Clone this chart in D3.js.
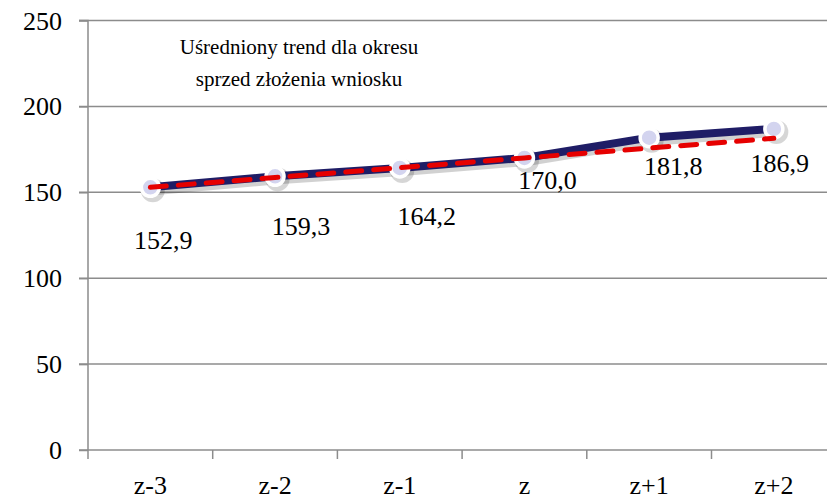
<!DOCTYPE html>
<html>
<head>
<meta charset="utf-8">
<script src="https://cdn.jsdelivr.net/npm/d3@7"></script>
</head>
<body style="margin:0;background:#fff">
<svg id="chart" width="827" height="499" style="display:block"></svg>
<script>
// Period labels and values
const categories = ["z-3", "z-2", "z-1", "z", "z+1", "z+2"];
const actualValues = [152.9, 159.3, 164.2, 170.0, 181.8, 186.9];
// Averaged trend from the pre-application period, carried forward
const trendValues = [152.9, 158.6, 164.3, 170.0, 175.7, 181.4];
const yTicks = [0, 50, 100, 150, 200, 250];
const titleLines = ["Uśredniony trend dla okresu", "sprzed złożenia wniosku"];

// Per-label nudges (px) relative to each point
const labelNudge = [[13, 53], [26, 50], [27, 48], [23, 22], [24, 28], [6, 34]];

const FONT = "Liberation Serif";
const svg = d3.select("#chart");
const W = 827;
const plotLeft = 88, plotTop = 20.5, plotBottom = 450;
const band = 124.7;
const plotRight = plotLeft + band * categories.length;

const x = d3.scaleBand().domain(categories).range([plotLeft, plotRight]).paddingInner(0).paddingOuter(0);
const y = d3.scaleLinear().domain([0, 250]).range([plotBottom, plotTop]);
const cx = d => x(d) + x.bandwidth() / 2;

// Text helper: each label sits directly on the svg root
function label(px, py, str, size, anchor) {
  return svg.append("text")
    .attr("x", px).attr("y", py)
    .attr("font-family", FONT).attr("font-size", size)
    .attr("text-anchor", anchor).attr("fill", "#000")
    .text(str);
}

const gridColor = "#8c8c8c";

// Horizontal gridlines with left tick stubs
svg.append("g").selectAll("line").data(yTicks.filter(d => d > 0)).join("line")
  .attr("x1", plotLeft - 9).attr("x2", W)
  .attr("y1", d => y(d)).attr("y2", d => y(d))
  .attr("stroke", gridColor).attr("stroke-width", 1.5);

// Y axis line and ticks
const yAxis = d3.axisLeft(y).tickValues(yTicks).tickSize(9).tickFormat("");
const gy = svg.append("g").attr("transform", `translate(${plotLeft},0)`).call(yAxis);
gy.select(".domain").attr("stroke", gridColor).attr("stroke-width", 1.5)
  .attr("d", `M-9,${y(250)}H0V${plotBottom}`);
gy.selectAll(".tick line").attr("stroke", gridColor).attr("stroke-width", 1.5);
gy.selectAll(".tick text").remove();
yTicks.forEach(v => label(plotLeft - 26, y(v) + 9, d3.format("d")(v), 26, "end"));

// X axis with ticks at band boundaries
const xBoundaries = d3.range(categories.length + 1).map(i => plotLeft + i * band);
svg.append("line").attr("x1", plotLeft - 9).attr("x2", W).attr("y1", plotBottom).attr("y2", plotBottom)
  .attr("stroke", gridColor).attr("stroke-width", 1.5);
svg.append("g").selectAll("line").data(xBoundaries).join("line")
  .attr("x1", d => d).attr("x2", d => d).attr("y1", plotBottom).attr("y2", plotBottom + 9)
  .attr("stroke", gridColor).attr("stroke-width", 1.5);
categories.forEach(c => label(cx(c), 494, c, 26, "middle"));

const line = d3.line().x((d, i) => cx(categories[i])).y(d => y(d));

// Soft offset shadow under the series line and markers
svg.append("path").datum(actualValues).attr("d", line)
  .attr("transform", "translate(2.5,3)")
  .attr("fill", "none").attr("stroke", "#000").attr("stroke-opacity", 0.18).attr("stroke-width", 10)
  .attr("stroke-linejoin", "round");
svg.append("g").selectAll("circle").data(actualValues).join("circle")
  .attr("cx", (d, i) => cx(categories[i]) + 2.5).attr("cy", d => y(d) + 3).attr("r", 12)
  .attr("fill", "#000").attr("fill-opacity", 0.16);

// Actual series line
svg.append("path").datum(actualValues).attr("d", line)
  .attr("fill", "none").attr("stroke", "#1f1d66").attr("stroke-width", 8)
  .attr("stroke-linejoin", "round");

// Markers
svg.append("g").selectAll("circle").data(actualValues).join("circle")
  .attr("cx", (d, i) => cx(categories[i])).attr("cy", d => y(d)).attr("r", 9)
  .attr("fill", "#d3d4ef").attr("stroke", "#fff").attr("stroke-width", 3.5);

// Trend line (dashed)
svg.append("path").datum(trendValues).attr("d", line)
  .attr("fill", "none").attr("stroke", "#e60000").attr("stroke-width", 5)
  .attr("stroke-dasharray", "16,12").attr("stroke-linecap", "round");

// Value labels
const fmt = v => v.toFixed(1).replace(".", ",");
actualValues.forEach((v, i) =>
  label(cx(categories[i]) + labelNudge[i][0], y(v) + labelNudge[i][1] + 9, fmt(v), 26, "middle"));

// Chart title inside plot
titleLines.forEach((t, i) => label(299, 54 + i * 32, t, 21, "middle"));
</script>
</body>
</html>
